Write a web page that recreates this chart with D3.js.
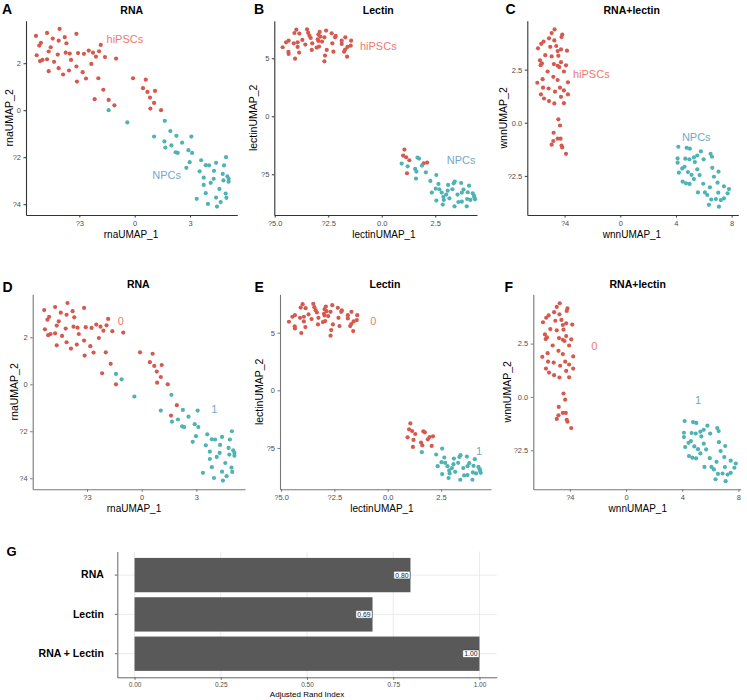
<!DOCTYPE html>
<html><head><meta charset="utf-8">
<script src="https://cdn.jsdelivr.net/npm/d3@7"></script>
<style>body{margin:0;background:#fff} text{font-family:"Liberation Sans",Arial,sans-serif}</style>
</head><body><svg id="c" width="747" height="700"></svg>
<script>
// ---------- DATA ----------
// [UMAP_1, UMAP_2, cellType, cluster]
const rnaUMAP = [
[-5.35,3.16,"hiPSCs",0],[-4.75,3.29,"hiPSCs",0],[-4.07,3.46,"hiPSCs",0],[-3.16,3.25,"hiPSCs",0],[-3.79,3.11,"hiPSCs",0],
[-5.08,2.87,"hiPSCs",0],[-5.17,2.75,"hiPSCs",0],[-4.44,3.05,"hiPSCs",0],[-4.12,2.96,"hiPSCs",0],[-3.70,2.85,"hiPSCs",0],
[-4.55,2.68,"hiPSCs",0],[-4.66,2.50,"hiPSCs",0],[-4.17,2.37,"hiPSCs",0],[-5.31,2.34,"hiPSCs",0],[-5.13,2.09,"hiPSCs",0],
[-5.00,2.14,"hiPSCs",0],[-4.75,2.17,"hiPSCs",0],[-4.37,2.06,"hiPSCs",0],[-3.74,2.45,"hiPSCs",0],[-3.52,2.41,"hiPSCs",0],
[-3.45,2.14,"hiPSCs",0],[-3.07,2.43,"hiPSCs",0],[-2.75,2.40,"hiPSCs",0],[-2.49,2.54,"hiPSCs",0],[-2.26,2.45,"hiPSCs",0],
[-1.93,2.51,"hiPSCs",0],[-1.84,2.78,"hiPSCs",0],[-2.10,2.28,"hiPSCs",0],[-1.61,2.26,"hiPSCs",0],[-1.01,2.20,"hiPSCs",0],
[-4.66,1.66,"hiPSCs",0],[-4.12,1.79,"hiPSCs",0],[-3.88,1.52,"hiPSCs",0],[-3.56,1.69,"hiPSCs",0],[-3.16,1.86,"hiPSCs",0],
[-2.82,1.62,"hiPSCs",0],[-2.64,1.35,"hiPSCs",0],[-3.13,1.22,"hiPSCs",0],[-2.35,1.97,"hiPSCs",0],[-1.97,1.36,"hiPSCs",0],
[-1.70,0.87,"hiPSCs",0],[-2.17,0.47,"hiPSCs",0],[-1.41,0.44,"hiPSCs",1],[-1.10,0.21,"hiPSCs",1],[-0.09,1.36,"hiPSCs",0],
[0.60,1.30,"hiPSCs",0],[0.45,0.94,"hiPSCs",0],[0.69,0.78,"hiPSCs",0],[1.10,0.82,"hiPSCs",0],[0.83,0.54,"hiPSCs",0],
[1.05,0.31,"hiPSCs",0],[0.85,0.07,"hiPSCs",0],[1.43,0.00,"hiPSCs",0],
[-1.41,0.00,"NPCs",0],[-0.40,-0.52,"NPCs",1],[1.63,-0.45,"NPCs",1],[1.05,-1.12,"NPCs",1],[1.93,-0.89,"NPCs",0],
[2.26,-1.09,"NPCs",1],[3.07,-1.12,"NPCs",1],[2.57,-1.38,"NPCs",1],[1.61,-1.33,"NPCs",0],[1.99,-1.50,"NPCs",1],
[1.66,-1.59,"NPCs",1],[2.22,-1.79,"NPCs",1],[2.33,-1.82,"NPCs",1],[2.91,-1.70,"NPCs",1],[3.11,-1.82,"NPCs",1],
[2.98,-2.21,"NPCs",1],[2.80,-2.45,"NPCs",1],[3.60,-2.13,"NPCs",1],[4.41,-2.24,"NPCs",1],[4.95,-2.00,"NPCs",1],
[3.85,-2.34,"NPCs",1],[4.03,-2.35,"NPCs",1],[3.52,-2.60,"NPCs",1],[4.30,-2.58,"NPCs",1],[3.74,-2.87,"NPCs",1],
[4.28,-2.92,"NPCs",1],[4.12,-3.09,"NPCs",1],[3.74,-3.18,"NPCs",1],[4.59,-3.35,"NPCs",1],[4.41,-3.72,"NPCs",1],
[5.09,-3.04,"NPCs",1],[4.77,-2.71,"NPCs",1],[5.02,-2.81,"NPCs",1],[4.84,-2.35,"NPCs",1],[5.09,-2.92,"NPCs",1],
[3.85,-3.53,"NPCs",1],[4.93,-3.55,"NPCs",1],[3.36,-3.77,"NPCs",1],[3.97,-3.99,"NPCs",1],[4.66,-3.91,"NPCs",1],
[4.46,-4.10,"NPCs",1],[4.97,-3.73,"NPCs",1],[4.81,-2.99,"NPCs",1]
];
const lectinUMAP = [
[-4.63,5.95,"hiPSCs",0],[-4.47,6.38,"hiPSCs",0],[-4.35,6.52,"hiPSCs",0],[-4.36,5.55,"hiPSCs",0],[-4.35,5.37,"hiPSCs",0],
[-4.08,7.18,"hiPSCs",0],[-3.99,7.47,"hiPSCs",0],[-3.85,7.13,"hiPSCs",0],[-4.11,6.29,"hiPSCs",0],[-3.93,6.38,"hiPSCs",0],
[-3.93,5.98,"hiPSCs",0],[-3.86,5.49,"hiPSCs",0],[-4.05,4.97,"hiPSCs",0],[-3.71,6.58,"hiPSCs",0],[-3.57,6.18,"hiPSCs",0],
[-3.49,7.50,"hiPSCs",0],[-3.44,7.21,"hiPSCs",0],[-3.38,6.95,"hiPSCs",0],[-3.32,6.75,"hiPSCs",0],[-3.25,6.29,"hiPSCs",0],
[-3.27,5.72,"hiPSCs",0],[-2.96,7.04,"hiPSCs",0],[-2.90,7.27,"hiPSCs",0],[-2.87,6.87,"hiPSCs",0],[-2.96,6.49,"hiPSCs",0],
[-2.99,6.64,"hiPSCs",0],[-2.93,6.01,"hiPSCs",0],[-2.60,7.39,"hiPSCs",0],[-2.68,6.81,"hiPSCs",0],[-2.57,5.72,"hiPSCs",0],
[-2.65,5.23,"hiPSCs",0],[-2.68,4.74,"hiPSCs",0],[-2.34,7.16,"hiPSCs",0],[-2.15,6.93,"hiPSCs",0],[-2.18,6.81,"hiPSCs",0],
[-2.31,6.29,"hiPSCs",0],[-2.26,5.57,"hiPSCs",0],[-1.70,6.81,"hiPSCs",0],[-1.43,6.52,"hiPSCs",0],[-1.45,6.09,"hiPSCs",0],
[-1.60,5.98,"hiPSCs",0],[-1.76,5.57,"hiPSCs",0],[-1.62,5.14,"hiPSCs",0],[-1.87,6.24,"hiPSCs",0],[-1.71,5.75,"hiPSCs",0],
[-1.87,6.52,"hiPSCs",0],[-2.79,6.44,"hiPSCs",0],[-3.04,5.92,"hiPSCs",0],
[1.06,-2.87,"hiPSCs",0],[1.00,-3.39,"hiPSCs",0],[1.14,-3.53,"hiPSCs",0],[1.29,-3.79,"hiPSCs",0],[1.18,-4.91,"hiPSCs",0],
[1.96,-4.05,"hiPSCs",0],[2.12,-3.99,"hiPSCs",0],
[0.93,-4.08,"NPCs",0],[1.21,-4.31,"NPCs",0],[1.67,-3.56,"NPCs",0],[1.74,-3.65,"NPCs",0],[1.56,-4.54,"NPCs",0],
[1.62,-4.77,"NPCs",0],[1.60,-5.37,"NPCs",1],[1.88,-4.25,"NPCs",0],[2.06,-4.83,"NPCs",0],[2.27,-5.57,"NPCs",1],
[2.34,-6.58,"NPCs",1],[2.55,-5.06,"NPCs",1],[2.65,-5.83,"NPCs",1],[2.52,-6.24,"NPCs",1],[2.69,-6.29,"NPCs",1],
[2.55,-7.27,"NPCs",1],[2.80,-6.58,"NPCs",1],[2.88,-6.95,"NPCs",1],[2.90,-7.21,"NPCs",1],[2.85,-7.61,"NPCs",1],
[3.01,-6.75,"NPCs",1],[3.08,-6.41,"NPCs",1],[3.16,-7.07,"NPCs",1],[3.10,-5.92,"NPCs",1],[3.36,-5.78,"NPCs",1],
[3.41,-5.63,"NPCs",1],[3.30,-6.29,"NPCs",1],[3.40,-7.76,"NPCs",1],[3.54,-6.75,"NPCs",1],[3.58,-7.39,"NPCs",1],
[3.71,-5.75,"NPCs",1],[3.74,-6.58,"NPCs",1],[3.82,-6.32,"NPCs",1],[4.02,-6.55,"NPCs",1],[3.97,-7.76,"NPCs",1],
[4.08,-5.98,"NPCs",1],[3.99,-7.13,"NPCs",1],[4.25,-6.64,"NPCs",1],[4.31,-6.84,"NPCs",1],[4.33,-7.01,"NPCs",1],
[4.36,-7.16,"NPCs",1],[4.14,-7.21,"NPCs",1],[3.74,-7.36,"NPCs",1]
];
const wnnUMAP = [
[-4.72,4.39,"hiPSCs",0],[-4.93,4.22,"hiPSCs",0],[-4.17,4.15,"hiPSCs",0],[-4.22,4.03,"hiPSCs",0],[-5.51,3.82,"hiPSCs",0],
[-5.68,3.71,"hiPSCs",0],[-5.12,3.97,"hiPSCs",0],[-4.74,3.87,"hiPSCs",0],[-5.91,3.50,"hiPSCs",0],[-5.03,3.57,"hiPSCs",0],
[-4.60,3.61,"hiPSCs",0],[-4.26,3.45,"hiPSCs",0],[-3.83,3.39,"hiPSCs",0],[-4.50,3.37,"hiPSCs",0],[-5.39,3.18,"hiPSCs",0],
[-4.93,3.12,"hiPSCs",0],[-4.45,3.15,"hiPSCs",0],[-5.77,2.93,"hiPSCs",0],[-5.63,2.79,"hiPSCs",0],[-5.72,2.71,"hiPSCs",0],
[-4.77,2.76,"hiPSCs",0],[-4.50,2.68,"hiPSCs",0],[-4.38,2.62,"hiPSCs",0],[-4.26,2.85,"hiPSCs",0],[-3.90,2.70,"hiPSCs",0],
[-4.05,2.41,"hiPSCs",0],[-5.22,2.41,"hiPSCs",0],[-4.81,2.16,"hiPSCs",0],[-5.58,2.05,"hiPSCs",0],[-4.50,2.01,"hiPSCs",0],
[-5.96,1.88,"hiPSCs",0],[-3.76,1.90,"hiPSCs",0],[-5.55,1.65,"hiPSCs",0],[-5.15,1.61,"hiPSCs",0],[-4.33,1.65,"hiPSCs",0],
[-4.05,1.52,"hiPSCs",0],[-5.70,1.33,"hiPSCs",0],[-3.76,1.33,"hiPSCs",0],[-5.48,1.14,"hiPSCs",0],[-5.12,1.02,"hiPSCs",0],
[-4.74,0.91,"hiPSCs",0],[-4.26,1.22,"hiPSCs",0],[-4.05,0.92,"hiPSCs",0],[-4.69,1.46,"hiPSCs",0],[-4.45,0.16,"hiPSCs",0],
[-4.33,-0.13,"hiPSCs",0],[-4.79,-0.47,"hiPSCs",0],[-4.50,-0.75,"hiPSCs",0],[-4.29,-0.75,"hiPSCs",0],[-4.81,-0.86,"hiPSCs",0],
[-4.93,-1.03,"hiPSCs",0],[-4.22,-1.07,"hiPSCs",0],[-4.17,-1.16,"hiPSCs",0],[-3.90,-1.46,"hiPSCs",0],
[4.17,-1.13,"NPCs",1],[4.77,-1.18,"NPCs",1],[5.00,-1.22,"NPCs",1],[4.12,-1.68,"NPCs",1],[4.12,-1.88,"NPCs",1],
[4.67,-1.69,"NPCs",1],[4.96,-1.72,"NPCs",1],[5.29,-1.63,"NPCs",1],[5.53,-1.54,"NPCs",1],[5.79,-1.35,"NPCs",1],
[6.49,-1.46,"NPCs",1],[6.59,-1.60,"NPCs",1],[5.99,-1.72,"NPCs",1],[5.36,-1.85,"NPCs",1],[4.45,-2.15,"NPCs",1],
[4.21,-2.35,"NPCs",1],[4.62,-2.07,"NPCs",1],[4.86,-2.32,"NPCs",1],[5.12,-2.45,"NPCs",1],[5.53,-2.19,"NPCs",1],
[5.29,-2.65,"NPCs",1],[5.70,-2.46,"NPCs",1],[6.61,-2.12,"NPCs",1],[7.06,-2.30,"NPCs",1],[6.73,-2.54,"NPCs",1],
[4.48,-2.77,"NPCs",1],[4.72,-2.85,"NPCs",1],[4.98,-2.88,"NPCs",1],[5.96,-2.87,"NPCs",1],[6.44,-3.04,"NPCs",1],
[6.99,-2.82,"NPCs",1],[7.45,-2.99,"NPCs",1],[7.81,-3.12,"NPCs",1],[7.71,-3.32,"NPCs",1],[7.45,-3.56,"NPCs",1],
[7.04,-3.29,"NPCs",1],[6.54,-3.61,"NPCs",1],[6.08,-3.28,"NPCs",1],[5.58,-3.28,"NPCs",1],[6.25,-3.40,"NPCs",1],
[6.37,-3.86,"NPCs",1],[6.87,-3.59,"NPCs",1],[7.09,-3.95,"NPCs",1],[7.23,-3.64,"NPCs",1]
];
// tick values and labels
const rnaXTicks = [-3,0,3], rnaXTickLabels = ["?3","0","3"];
const rnaYTicks = [-4,-2,0,2], rnaYTickLabels = ["?4","?2","0","2"];
const lectinXTicks = [-5,-2.5,0,2.5], lectinXTickLabels = ["?5.0","?2.5","0.0","2.5"];
const lectinYTicks = [-5,0,5], lectinYTickLabels = ["?5","0","5"];
const wnnXTicks = [-4,0,4,8], wnnXTickLabels = ["?4","0","4","8"];
const wnnYTicks = [-2.5,0,2.5], wnnYTickLabels = ["?2.5","0.0","2.5"];
// panel G
const methods = ["RNA","Lectin","RNA + Lectin"];
const ariValues = [0.80, 0.69, 1.00];
const ariLabels = ["0.80","0.69","1.00"];
const ariTicks = [0,0.25,0.5,0.75,1.0], ariTickLabels = ["0.00","0.25","0.50","0.75","1.00"];

// ---------- DRAW ----------
const svg = d3.select("#c");
const typeColor = {hiPSCs:"#D6594F", NPCs:"#4FB3B5"};
const clusterColor = ["#D6594F","#4FB3B5"];
const labRed = "#EC7A73", labBlue = "#72A8CC";

function scatter(o){
  const x = d3.scaleLinear().domain(o.xd).range([o.l,o.r]);
  const y = d3.scaleLinear().domain(o.yd).range([o.b,o.t]);
  const g = svg.append("g");
  g.append("g").selectAll("circle").data(o.data).join("circle")
    .attr("cx",d=>x(d[0])).attr("cy",d=>y(d[1])).attr("r",2.1)
    .attr("fill",d=> o.byCluster ? clusterColor[d[3]] : typeColor[d[2]]);
  const xa = d3.axisBottom(x).tickValues(o.xt).tickFormat((d,i)=>o.xtl[i]).tickSizeInner(2.5).tickSizeOuter(0).tickPadding(3);
  const ya = d3.axisLeft(y).tickValues(o.yt).tickFormat((d,i)=>o.ytl[i]).tickSizeInner(2.5).tickSizeOuter(0).tickPadding(2.5);
  [g.append("g").attr("transform",`translate(0,${o.b})`).call(xa),
   g.append("g").attr("transform",`translate(${o.l},0)`).call(ya)].forEach(a=>{
     a.select(".domain").attr("stroke",o.axisColor).attr("stroke-width",1.1);
     a.selectAll(".tick line").attr("stroke",o.axisColor);
     a.selectAll("text").attr("font-size","7.5px").attr("fill","#4D4D4D").attr("font-family","Liberation Sans, Arial, sans-serif");
  });
  o.labels.forEach(lb=>{
    g.append("text").attr("x",x(lb[1])).attr("y",y(lb[2])).attr("text-anchor","middle")
      .attr("dominant-baseline","central").attr("font-size","11px").attr("fill",lb[3]).text(lb[0]);
  });
  g.append("text").attr("x",o.tx).attr("y",o.ty).attr("text-anchor","middle").attr("dominant-baseline","central")
    .attr("font-size","10.5px").attr("font-weight","bold").attr("fill","#000").text(o.title);
  g.append("text").attr("x",o.lx).attr("y",o.ly).attr("font-size","14px").attr("font-weight","bold").attr("fill","#000").text(o.letter);
  g.append("text").attr("x",o.xtx).attr("y",o.xty).attr("text-anchor","middle").attr("dominant-baseline","central")
    .attr("font-size","10px").attr("fill","#000").text(o.xTitle);
  g.append("text").attr("transform",`translate(${o.ytx},${(o.t+o.b)/2}) rotate(-90)`).attr("text-anchor","middle")
    .attr("dominant-baseline","central").attr("font-size","10.5px").attr("fill","#000").text(o.yTitle);
}

const topAx = "#333", botAx = "#777";
scatter({data:rnaUMAP,byCluster:false,l:26,r:237.3,t:20.7,b:215,xd:[-5.89,5.56],yd:[-4.46,3.81],
  xt:rnaXTicks,xtl:rnaXTickLabels,yt:rnaYTicks,ytl:rnaYTickLabels,axisColor:topAx,
  labels:[["hiPSCs",-0.53,3.05,labRed],["NPCs",1.73,-2.74,labBlue]],
  title:"RNA",tx:131.7,ty:9.5,letter:"A",lx:2,ly:14,xTitle:"rnaUMAP_1",xtx:131,xty:234,yTitle:"rnaUMAP_2",ytx:8.5});
scatter({data:lectinUMAP,byCluster:false,l:274.3,r:477,t:20.7,b:215,xd:[-5.02,4.45],yd:[-8.51,8.24],
  xt:lectinXTicks,xtl:lectinXTickLabels,yt:lectinYTicks,ytl:lectinYTickLabels,axisColor:topAx,
  labels:[["hiPSCs",-0.16,6.06,labRed],["NPCs",3.71,-3.77,labBlue]],
  title:"Lectin",tx:378.3,ty:10,letter:"B",lx:254,ly:14,xTitle:"lectinUMAP_1",xtx:384,xty:234,yTitle:"lectinUMAP_2",ytx:252.5});
scatter({data:wnnUMAP,byCluster:false,l:527.3,r:738.3,t:20.7,b:215,xd:[-6.68,8.48],yd:[-4.34,4.8],
  xt:wnnXTicks,xtl:wnnXTickLabels,yt:wnnYTicks,ytl:wnnYTickLabels,axisColor:topAx,
  labels:[["hiPSCs",-2.08,2.28,labRed],["NPCs",5.46,-0.66,labBlue]],
  title:"RNA+lectin",tx:631.7,ty:10,letter:"C",lx:505.5,ly:14,xTitle:"wnnUMAP_1",xtx:632,xty:234,yTitle:"wnnUMAP_2",ytx:503});
scatter({data:rnaUMAP,byCluster:true,l:32.7,r:245,t:294.3,b:489.3,xd:[-5.98,5.67],yd:[-4.47,3.83],
  xt:rnaXTicks,xtl:rnaXTickLabels,yt:rnaYTicks,ytl:rnaYTickLabels,axisColor:botAx,
  labels:[["0",-1.15,2.69,labRed],["1",3.98,-1.05,labBlue]],
  title:"RNA",tx:138.3,ty:284,letter:"D",lx:2.5,ly:292,xTitle:"rnaUMAP_1",xtx:134,xty:508.5,yTitle:"rnaUMAP_2",ytx:13.5});
scatter({data:lectinUMAP,byCluster:true,l:280,r:491,t:294.3,b:489.3,xd:[-5.05,4.84],yd:[-8.59,8.33],
  xt:lectinXTicks,xtl:lectinXTickLabels,yt:lectinYTicks,ytl:lectinYTickLabels,axisColor:botAx,
  labels:[["0",-0.68,6.01,labRed],["1",4.28,-5.26,labBlue]],
  title:"Lectin",tx:385,ty:283.5,letter:"E",lx:254.5,ly:292,xTitle:"lectinUMAP_1",xtx:382,xty:508.5,yTitle:"lectinUMAP_2",ytx:258.5});
scatter({data:wnnUMAP,byCluster:true,l:533.3,r:740.7,t:294.3,b:489.3,xd:[-6.6,8.16],yd:[-4.33,4.81],
  xt:wnnXTicks,xtl:wnnXTickLabels,yt:wnnYTicks,ytl:wnnYTickLabels,axisColor:botAx,
  labels:[["0",-2.26,2.41,labRed],["1",5.12,-0.15,labBlue]],
  title:"RNA+lectin",tx:637.7,ty:284,letter:"F",lx:504.5,ly:292,xTitle:"wnnUMAP_1",xtx:637.8,xty:508.5,yTitle:"wnnUMAP_2",ytx:507});

// ---------- Panel G ----------
(function(){
  const L=117.3, R=496.7, T=551.5, B=677.3;
  const x = d3.scaleLinear().domain([-0.05,1.05]).range([L,R]);
  const y = d3.scaleBand().domain(methods).range([T,B]).paddingInner(0.127).paddingOuter(0.1635);
  const g = svg.append("g");
  g.append("g").selectAll("line.v").data(ariTicks).join("line")
    .attr("x1",d=>x(d)).attr("x2",d=>x(d)).attr("y1",T).attr("y2",B).attr("stroke","#E6E6E6").attr("stroke-width",0.8);
  g.append("g").selectAll("line.h").data(methods).join("line")
    .attr("x1",L).attr("x2",R).attr("y1",d=>y(d)+y.bandwidth()/2).attr("y2",d=>y(d)+y.bandwidth()/2)
    .attr("stroke","#E6E6E6").attr("stroke-width",0.8);
  g.append("g").selectAll("rect").data(methods).join("rect")
    .attr("x",x(0)).attr("y",d=>y(d)).attr("width",(d,i)=>x(ariValues[i])-x(0)).attr("height",y.bandwidth())
    .attr("fill","#595959");
  methods.forEach((m,i)=>{
    const cy = y(m)+y.bandwidth()/2, xr = x(ariValues[i]);
    const t = g.append("text").attr("x",xr-2).attr("y",cy).attr("text-anchor","end").attr("dominant-baseline","central")
      .attr("font-size","6.8px").attr("fill","#222").text(ariLabels[i]);
    const w = t.node().getComputedTextLength();
    g.insert("rect",()=>t.node()).attr("x",xr-w-3.5).attr("y",cy-3.8).attr("width",w+3.2).attr("height",7.6)
      .attr("rx",1).attr("fill","#fff").attr("stroke","#333").attr("stroke-width",0.5);
  });
  const xa = d3.axisBottom(x).tickValues(ariTicks).tickFormat((d,i)=>ariTickLabels[i]).tickSizeInner(2.5).tickSizeOuter(0).tickPadding(3);
  const ya = d3.axisLeft(y).tickSizeInner(2.5).tickSizeOuter(0).tickPadding(11);
  const gx = g.append("g").attr("transform",`translate(0,${B})`).call(xa);
  const gy = g.append("g").attr("transform",`translate(${L},0)`).call(ya);
  [gx,gy].forEach(a=>{
    a.select(".domain").attr("stroke","#666").attr("stroke-width",1);
    a.selectAll(".tick line").attr("stroke","#666");
    a.selectAll("text").attr("font-family","Liberation Sans, Arial, sans-serif");
  });
  gx.selectAll("text").attr("font-size","6.5px").attr("fill","#4D4D4D");
  gy.selectAll("text").attr("font-size","10.5px").attr("font-weight","bold").attr("fill","#000");
  g.append("text").attr("x",(x(0)+x(1))/2).attr("y",694.3).attr("text-anchor","middle").attr("dominant-baseline","central")
    .attr("font-size","8px").attr("fill","#000").text("Adjusted Rand Index");
  g.append("text").attr("x",6.5).attr("y",556).attr("font-size","13px").attr("font-weight","bold").attr("fill","#000").text("G");
})();
</script></body></html>
